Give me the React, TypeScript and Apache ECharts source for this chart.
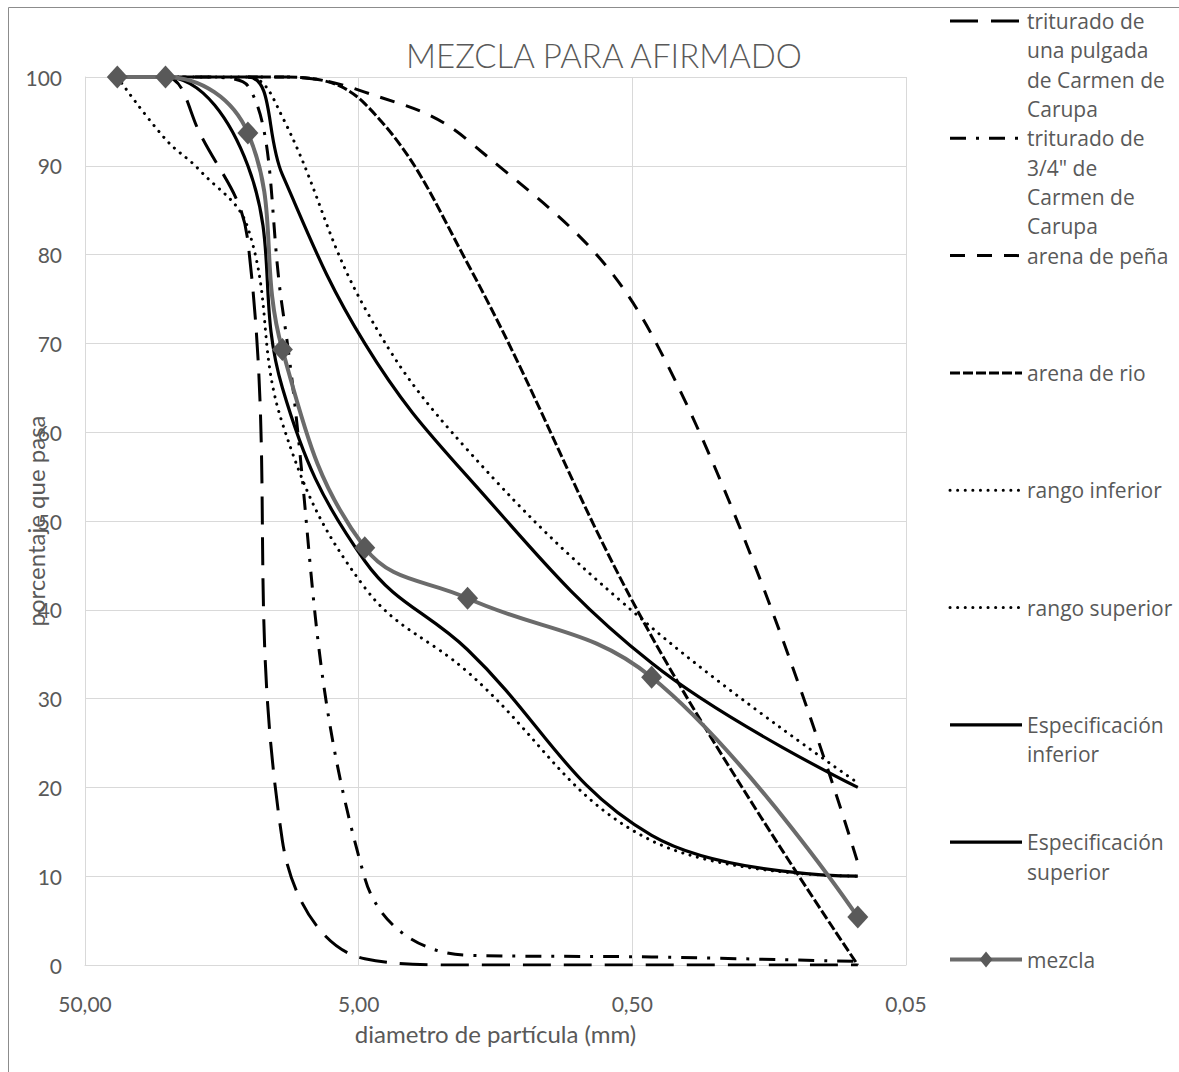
import React, { useEffect, useRef } from "react";
import * as echarts from "echarts";

// Sieve openings (mm)
const sieveSizes = [38.1, 25.4, 19.05, 12.7, 9.5, 4.75, 2.0, 0.425, 0.075];
const xTickValues = [50, 5, 0.5, 0.05];

const seriesNames = [
  "triturado de una pulgada de Carmen de Carupa",
  'triturado de 3/4" de Carmen de Carupa',
  "arena de peña",
  "arena de rio",
  "rango inferior",
  "rango superior",
  "Especificación inferior",
  "Especificación superior",
  "mezcla",
];
const legendLabels = [
  "triturado de\nuna pulgada\nde Carmen de\nCarupa",
  'triturado de\n3/4" de\nCarmen de\nCarupa',
  "arena de peña",
  "arena de rio",
  "rango inferior",
  "rango superior",
  "Especificación\ninferior",
  "Especificación\nsuperior",
  "mezcla",
];

// % passing, aligned with sieveSizes (null = not measured)
const trituradoPulgada = [100, 100, 93.7, 81.5, 14, 0.7, 0, 0, 0];
const trituradoTresCuartos = [100, 100, 100, 99, 74, 9.8, 1.1, 0.9, 0.4];
const arenaPena = [null, null, null, 100, 100, 98.3, 92.9, 71, 11.5];
const arenaRio = [null, null, null, 100, 100, 97, 79, 37, 0];
const rangoInferior = [100, 93, 89.5, 83, 61, 42.5, 33, 14, 10];
const rangoSuperior = [100, 100, null, 100, 95.5, 74, 58, 38, 20.5];
const especInferior = [100, 100, null, 90, 65, 45.5, 35.5, 14.6, 10];
const especSuperior = [100, 100, null, 100, 89, 70, 55, 34, 20];
const mezcla = [100, 100, null, 93.7, 69.3, 47, 41.3, 32.4, 5.4];

const allValues = [
  trituradoPulgada,
  trituradoTresCuartos,
  arenaPena,
  arenaRio,
  rangoInferior,
  rangoSuperior,
  especInferior,
  especSuperior,
  mezcla,
];

const TEXT = "#595959";
const GRID = "#d9d9d9";

type Sty = { color: string; width: number; dash: number[] | "solid"; cap: "butt" | "round" };
const styles: Sty[] = [
  { color: "#000", width: 3, dash: [28, 13], cap: "butt" },
  { color: "#000", width: 3, dash: [16, 10, 3, 10], cap: "butt" },
  { color: "#000", width: 3, dash: [15, 12], cap: "butt" },
  { color: "#000", width: 3, dash: [10, 3], cap: "butt" },
  { color: "#000", width: 3, dash: [0.1, 7.5], cap: "round" },
  { color: "#000", width: 3, dash: [0.1, 7.5], cap: "round" },
  { color: "#000", width: 3.2, dash: "solid", cap: "butt" },
  { color: "#000", width: 3.2, dash: "solid", cap: "butt" },
  { color: "#6b6b6b", width: 4, dash: "solid", cap: "butt" },
];

function points(values: (number | null)[]) {
  const out: number[][] = [];
  values.forEach((v, i) => {
    if (v !== null && v !== undefined) out.push([sieveSizes[i], v]);
  });
  return out;
}

export default function App() {
  const ref = useRef<HTMLDivElement>(null);
  useEffect(() => {
    if (!ref.current) return;
    const chart = echarts.init(ref.current, null, { renderer: "svg" });

    const series: any[] = allValues.map((vals, i) => {
      const s = styles[i];
      const isMix = i === allValues.length - 1;
      return {
        type: "line",
        name: seriesNames[i],
        data: points(vals),
        smooth: 0.4,
        clip: i === 0,
        symbol: isMix ? "diamond" : "none",
        symbolSize: isMix ? [21, 23] : 0,
        showSymbol: isMix,
        itemStyle: { color: "#595959" },
        lineStyle: {
          color: s.color,
          width: s.width,
          type: s.dash,
          cap: s.cap,
        },
        z: 2 + i,
        emphasis: { disabled: true },
      };
    });

    const graphics: any[] = [
      {
        type: "rect",
        shape: { x: 8.5, y: 7.5, width: 1200, height: 1100 },
        style: { fill: "none", stroke: "#8c8c8c", lineWidth: 1 },
        silent: true,
      },
    ];
    const legX0 = 950;
    const legX1 = 1022;
    legendLabels.forEach((lab, i) => {
      const y = 21 + i * 117.3;
      const s = styles[i];
      graphics.push({
        type: "line",
        shape: { x1: legX0, y1: y, x2: legX1, y2: y },
        style: {
          stroke: s.color,
          lineWidth: s.width,
          lineDash: s.dash === "solid" ? null : s.dash,
          lineCap: s.cap,
        },
        silent: true,
      });
      if (i === legendLabels.length - 1) {
        const cx = (legX0 + legX1) / 2;
        graphics.push({
          type: "polygon",
          shape: {
            points: [
              [cx, y - 8],
              [cx + 6.5, y],
              [cx, y + 8],
              [cx - 6.5, y],
            ],
          },
          style: { fill: "#595959" },
          silent: true,
        });
      }
      graphics.push({
        type: "text",
        x: 1027,
        y: y - 14.5,
        style: {
          text: lab,
          fill: TEXT,
          font: '21px "Open Sans"',
          lineHeight: 29.3,
          verticalAlign: "top",
          align: "left",
        },
        silent: true,
      });
    });

    chart.setOption({
      animation: false,
      backgroundColor: "#fff",
      title: {
        text: "MEZCLA PARA AFIRMADO",
        left: 599,
        top: 33,
        textAlign: "center",
        textStyle: {
          fontFamily: "Lato",
          fontSize: 33,
          fontWeight: 300,
          color: TEXT,
        },
      },
      grid: {
        left: 85,
        right: 273,
        top: 77,
        bottom: 107,
        containLabel: false,
        outerBoundsMode: "none",
      },
      xAxis: {
        type: "log",
        logBase: 10,
        min: 0.05,
        max: 50,
        inverse: true,
        name: "diametro de partícula (mm)",
        nameLocation: "middle",
        nameGap: 56,
        nameMoveOverlap: false,
        nameTextStyle: { fontFamily: "Lato", fontSize: 24, color: TEXT },
        axisLine: { show: true, lineStyle: { color: GRID, width: 1 } },
        axisTick: { show: false, customValues: xTickValues },
        axisLabel: {
          customValues: xTickValues,
          formatter: (v: number) => v.toFixed(2).replace(".", ","),
          fontFamily: "Lato",
          fontSize: 21,
          color: TEXT,
          margin: 28,
        },
        splitLine: { show: true, lineStyle: { color: GRID, width: 1 } },
        minorSplitLine: { show: false },
      },
      yAxis: {
        type: "value",
        min: 0,
        max: 100,
        interval: 10,
        name: "porcentaje que pasa",
        nameLocation: "middle",
        nameRotate: 90,
        nameGap: 38,
        nameMoveOverlap: false,
        nameTextStyle: { fontFamily: "Lato", fontSize: 24, color: TEXT },
        axisLine: { show: true, lineStyle: { color: GRID, width: 1 } },
        axisTick: { show: false },
        axisLabel: { fontFamily: "Lato", fontSize: 21, color: TEXT, margin: 23 },
        splitLine: { show: true, lineStyle: { color: GRID, width: 1 } },
      },
      graphic: graphics,
      series,
    });

    return () => chart.dispose();
  }, []);

  return (
    <div
      ref={ref}
      style={{ position: "fixed", left: 0, top: 0, width: 1179, height: 1072, background: "#fff" }}
    />
  );
}
